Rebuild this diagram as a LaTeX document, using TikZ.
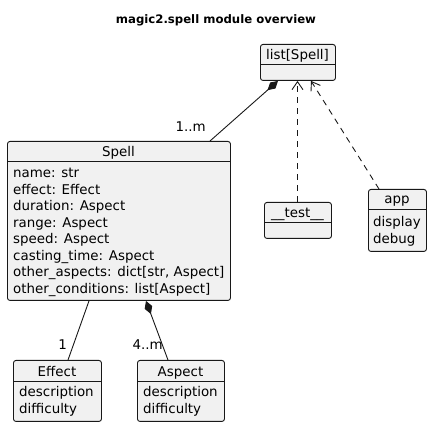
\documentclass[tikz,border=0pt]{standalone}
\usepackage{fontspec}
\setmainfont{DejaVu Sans}
\usetikzlibrary{arrows.meta,calc}
\definecolor{boxfill}{HTML}{F1F1F1}
\definecolor{ink}{HTML}{181818}
\tikzset{
  classbox/.style={draw=ink, fill=boxfill, line width=0.9pt, rounded corners=2.5pt, inner sep=0pt, anchor=north west},
  sepline/.style={draw=ink, line width=0.9pt},
  txt/.style={font=\fontsize{13.4}{16}\selectfont, inner sep=0pt, text=black},
  hdr/.style={txt, anchor=base},
  body/.style={txt, anchor=base west},
  lbl/.style={txt, anchor=base east},
  conn/.style={draw=ink, line width=0.9pt},
  dep/.style={conn, dashed, dash pattern=on 6pt off 5pt, -{Straight Barb[length=8pt,width=11pt,line width=0.9pt]}},
  comp/.style={conn, -{Diamond[length=14pt,width=8pt,fill=ink]}},
}
\begin{document}
\begin{tikzpicture}[x=1pt,y=-1pt]
\useasboundingbox (0,0) rectangle (432,427);
% title
\node[font=\bfseries\fontsize{11.7}{14}\selectfont, inner sep=0pt, anchor=base] (title) at (216,24) {magic2.spell module overview};

% list[Spell]
\node[classbox, minimum width=75pt, minimum height=36pt] (list) at (260,44) {};
\draw[sepline] (260,64) -- (335,64);
\node[hdr] (listh) at (297.5,60) {list[Spell]};

% Spell
\node[classbox, minimum width=223pt, minimum height=159pt] (spell) at (7,141) {};
\draw[sepline] (7,161) -- (230,161);
\node[hdr] (spellh) at (118.5,157) {Spell};
\node[body] (s1) at (13,178) {name: str};
\node[body] (s2) at (13,194.5) {effect: Effect};
\node[body] (s3) at (13,211) {duration: Aspect};
\node[body] (s4) at (13,227.5) {range: Aspect};
\node[body] (s5) at (13,244) {speed: Aspect};
\node[body] (s6) at (13,260.5) {casting\_time: Aspect};
\node[body] (s7) at (13,277) {other\_aspects: dict[str, Aspect]};
\node[body] (s8) at (13,293.5) {other\_conditions: list[Aspect]};

% __test__
\node[classbox, minimum width=67pt, minimum height=36pt] (test) at (264,202) {};
\draw[sepline] (264,222) -- (331,222);
\node[hdr] (testh) at (297.5,218) {\_\_test\_\_};

% app
\node[classbox, minimum width=58pt, minimum height=62pt] (app) at (368,189) {};
\draw[sepline] (368,209) -- (426,209);
\node[hdr] (apph) at (397,204) {app};
\node[body] (a1) at (373,227) {display};
\node[body] (a2) at (373,243.5) {debug};

% Effect
\node[classbox, minimum width=88pt, minimum height=61pt] (effect) at (13,360) {};
\draw[sepline] (13,381) -- (101,381);
\node[hdr] (effecth) at (57,377) {Effect};
\node[body] (e1) at (19,397) {description};
\node[body] (e2) at (19,413.5) {difficulty};

% Aspect
\node[classbox, minimum width=87pt, minimum height=61pt] (aspect) at (137,360) {};
\draw[sepline] (137,381) -- (224,381);
\node[hdr] (aspecth) at (180.5,377) {Aspect};
\node[body] (p1) at (143,397) {description};
\node[body] (p2) at (143,413.5) {difficulty};

% connectors
\draw[comp] ($(spell.north west)+(203,0)$) -- ($(list.south west)+(18,0)$);
\node[lbl] (l1) at (206,132) {1..m};
\draw[dep] ($(test.north west)+(33.5,0)$) -- ($(list.south west)+(37.5,0)$);
\draw[dep] ($(app.north west)+(11,0)$) -- ($(list.south west)+(51,0)$);
\draw[conn] ($(spell.south west)+(82,0)$) -- ($(effect.north west)+(55,0)$);
\node[lbl] (l2) at (67,350) {1};
\draw[comp] ($(aspect.north west)+(31,0)$) -- ($(spell.south west)+(139,0)$);
\node[lbl] (l3) at (163,350) {4..m};
\end{tikzpicture}
\end{document}
